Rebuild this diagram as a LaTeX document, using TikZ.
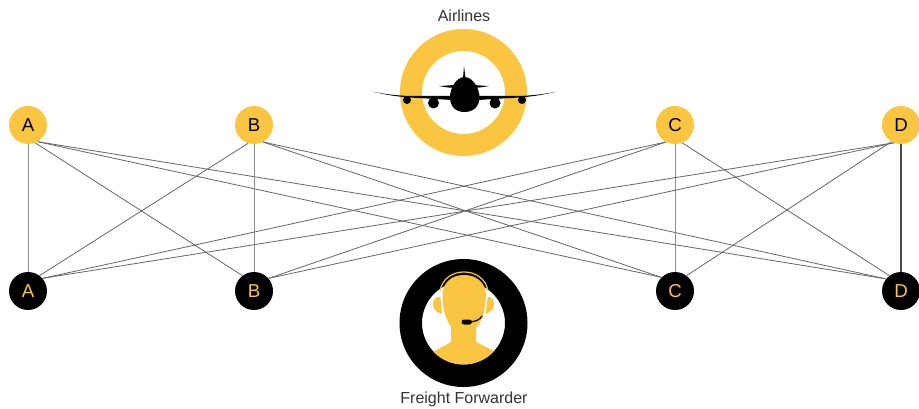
\documentclass[tikz,border=0pt]{standalone}
\usepackage{fontspec}
\setmainfont{Liberation Sans}
\definecolor{amber}{HTML}{FAC540}
\definecolor{edgegray}{HTML}{666666}
\definecolor{labelgray}{HTML}{333333}
\tikzset{
  topnode/.style={circle,fill=amber,minimum size=28.5pt,inner sep=0pt,text=black,font=\fontsize{14pt}{15pt}\selectfont},
  botnode/.style={circle,fill=black,minimum size=28.5pt,inner sep=0pt,text=amber,font=\fontsize{14pt}{15pt}\selectfont},
  link/.style={draw=edgegray,line width=0.6pt},
  vlink/.style={draw=black!45,line width=0.6pt},
  caption/.style={text=labelgray,font=\fontsize{12pt}{14pt}\selectfont,inner sep=0pt}
}
\begin{document}
\begin{tikzpicture}[x=0.75pt,y=-0.75pt]
\useasboundingbox (0,0) rectangle (919,409);
\fill[white] (0,0) rectangle (919,409);
\node[topnode] (ta) at (28,125) {A};
\node[topnode] (tb) at (254,125) {B};
\node[topnode] (tc) at (675,125) {C};
\node[topnode] (td) at (901,125) {D};
\node[botnode] (ba) at (28,291) {A};
\node[botnode] (bb) at (254,291) {B};
\node[botnode] (bc) at (675,291) {C};
\node[botnode] (bd) at (901,291) {D};
% connectors
\draw[vlink] (ta) -- (ba);
\draw[link] (ta.-68) -- (bb.127);
\draw[link] (ta.-60) -- (bc.135);
\draw[link] (ta.-60) -- (bd.141);
\draw[link] (tb.-108) -- (ba.53);
\draw[vlink] (tb) -- (bb);
\draw[link] (tb.-62) -- (bc.135);
\draw[link] (tb.-62) -- (bd.141);
\draw[link] (tc.-118) -- (ba.41);
\draw[link] (tc.-118) -- (bb.41);
\draw[vlink] (tc) -- (bc);
\draw[link] (tc.-68) -- (bd.127);
\draw[link] (td.-112) -- (ba.41);
\draw[link] (td.-112) -- (bb.41);
\draw[link] (td.-120) -- (bc.53);
\draw[line width=1pt,draw=black!70] (td) -- (bd);
% ring top
\fill[amber,even odd rule] (463.5,92.5) circle[radius=63.5] (463.5,92.5) circle[radius=41.5];
% plane
\fill[black] (373,91.8) .. controls (385,94) and (395,95.5) .. (410,96) -- (452,96) -- (478,96) -- (519,96) .. controls (534,95.5) and (544,94) .. (556,91.8) .. controls (544,94.5) and (534,96.5) .. (519,97.5) -- (478,100) -- (452,100) -- (410,97.5) .. controls (395,96.5) and (385,94.5) .. (373,91.8) -- cycle;
\fill[black] (464,66) -- (465.5,78) -- (466,80) -- (462,80) -- (463,78) -- cycle;
\fill[black] (439,86) .. controls (448,85.5) and (456,85) .. (464,84) .. controls (472,85) and (480,85.5) .. (489,86) .. controls (480,88) and (472,88) .. (464,88) .. controls (456,88) and (448,88) .. (439,86) -- cycle;
\fill[black] (464.5,77) .. controls (473,77) and (479.5,89) .. (479.5,97) .. controls (479.5,107) and (473,112) .. (464.5,112) .. controls (456,112) and (450,107) .. (450,97) .. controls (450,89) and (456,77) .. (464.5,77) -- cycle;
\fill[black] (407,100) circle[radius=4];
\fill[black] (433.5,103) circle[radius=5.5];
\fill[black] (495,103) circle[radius=5.5];
\fill[black] (522,100) circle[radius=4];
% ring bottom
\fill[black,even odd rule] (463.5,323) circle[radius=64] (463.5,323) circle[radius=41.5];
% person
\begin{scope}
\clip (463.5,323) circle[radius=41.5];
\fill[amber] (433,352) -- (451,342) -- (451,326) -- (476,326) -- (476,342) -- (494,351) -- (505,372) -- (422,372) -- cycle;
\fill[amber] (441,297) .. controls (431,295) and (429,311) .. (442,314) -- cycle;
\fill[amber] (486,297) .. controls (496,295) and (498,311) .. (485,314) -- cycle;
\end{scope}
\fill[amber] (464,275) .. controls (477,275) and (486,283) .. (486,296) .. controls (486,312) and (480,332) .. (464,334) .. controls (448,332) and (442.5,312) .. (442.5,296) .. controls (442.5,283) and (451,275) .. (464,275) -- cycle;
\draw[amber,line width=0.9pt] (440,291) .. controls (442,279) and (452,272) .. (464,272) .. controls (476,272) and (486,279) .. (488,291);
\draw[white,line width=1.1pt] (440.5,291) -- (443,316);
\draw[white,line width=1.1pt] (487.5,291) -- (484.5,316);
\draw[black,line width=0.9pt,line cap=round] (482,316) .. controls (480,320) and (475,321.5) .. (470,322);
\fill[black,rounded corners=2pt] (461.5,319.5) rectangle (472,324.5);
% captions
\node[caption] (air) at (464,15.5) {Airlines};
\node[caption] (ff) at (464,399.5) {Freight Forwarder};
\end{tikzpicture}
\end{document}
